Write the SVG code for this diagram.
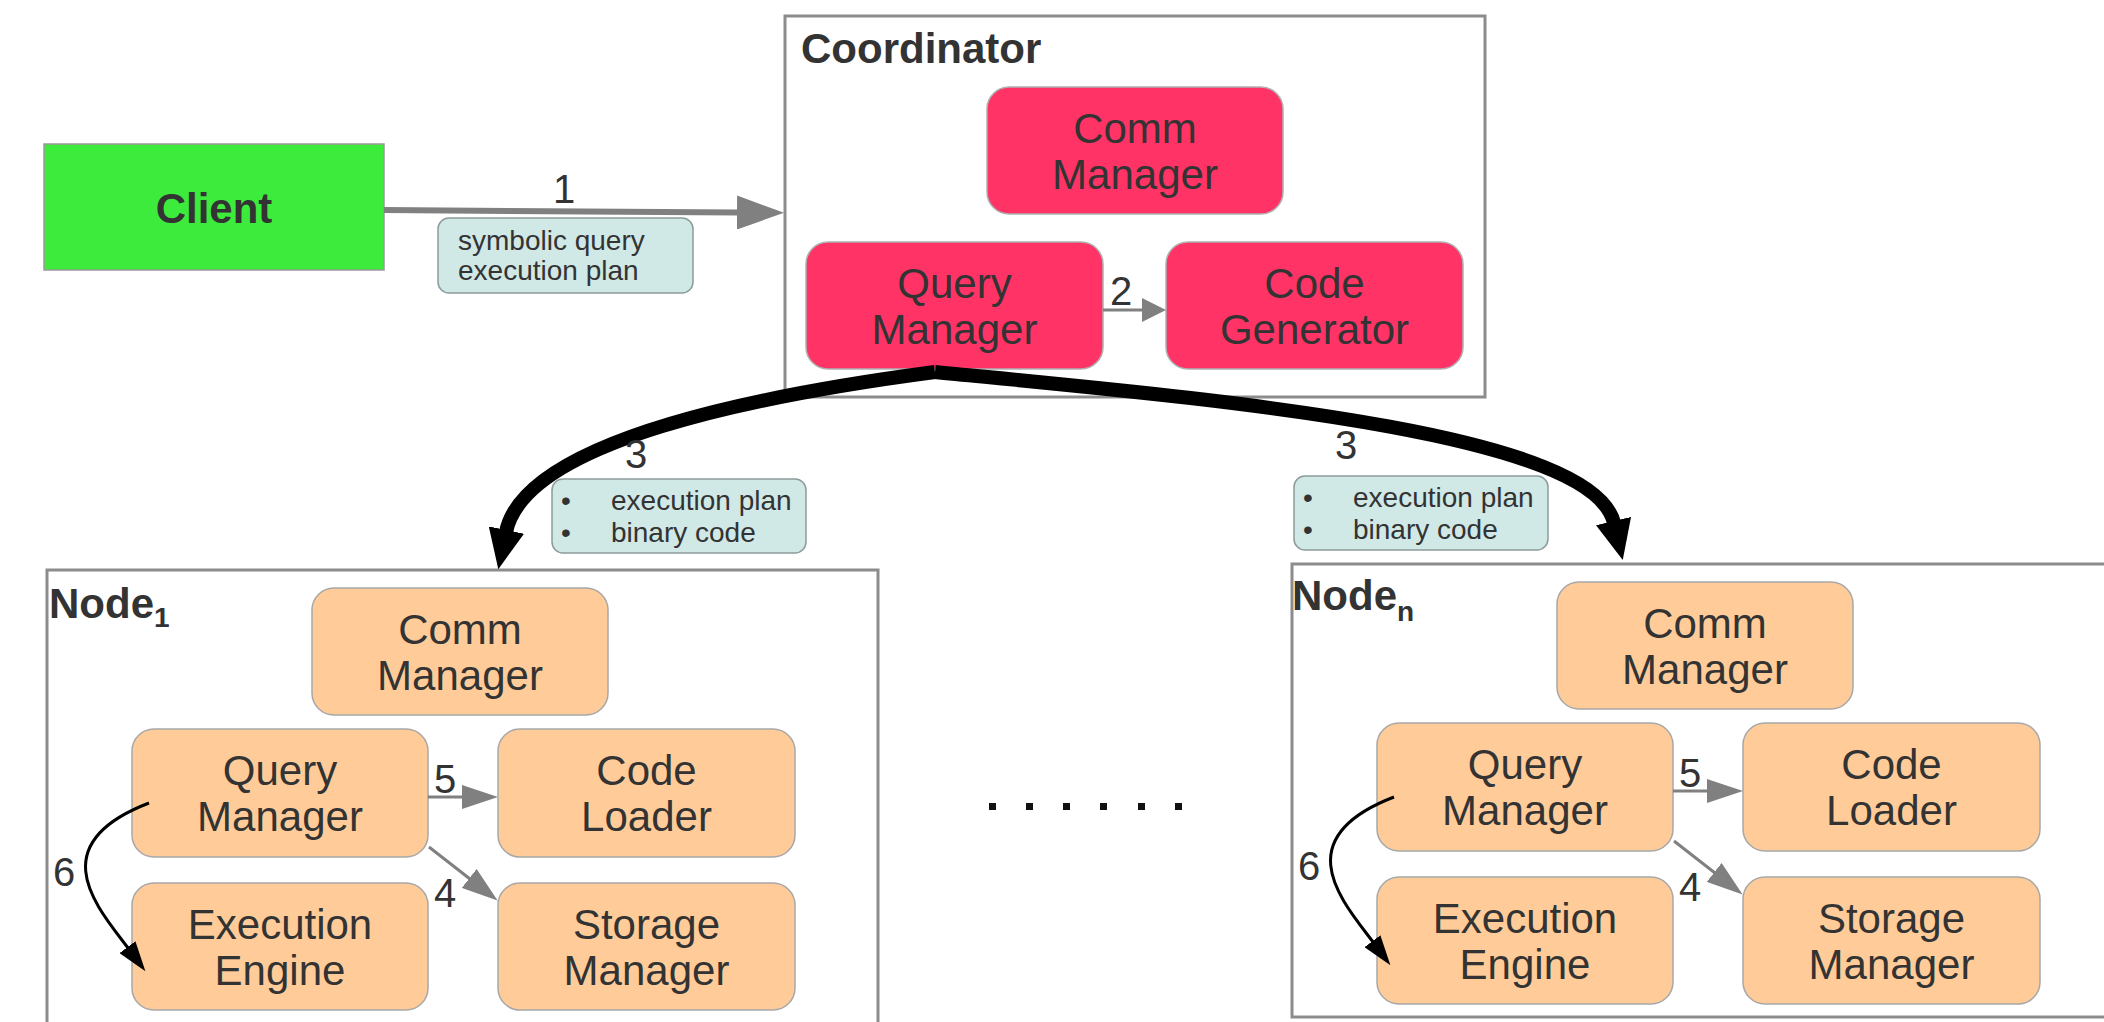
<svg xmlns="http://www.w3.org/2000/svg" width="2104" height="1022" viewBox="0 0 2104 1022">
  <style>
    text { font-family: "Liberation Sans", Arial, sans-serif; fill: #333333; }
    .title { font-size: 42px; font-weight: bold; }
    .comp { font-size: 42px; text-anchor: middle; }
    .num { font-size: 40px; text-anchor: middle; }
    .note { font-size: 28px; }
    .container { fill: #ffffff; stroke: #8c8c8c; stroke-width: 3; }
    .coord { fill: #ff3366; stroke: #b0b0b0; stroke-width: 1.5; }
    .worker { fill: #ffcc99; stroke: #a8a8a8; stroke-width: 1.5; }
    .label-box { fill: #d0e8e6; stroke: #8c9c9a; stroke-width: 1.5; }
    .gray { fill: none; stroke: #808080; }
    .black { fill: none; stroke: #000000; }
  </style>
  <defs>
    <marker id="headGrayBig" markerUnits="userSpaceOnUse" viewBox="0 0 47 34" markerWidth="47" markerHeight="34" refX="1" refY="17" orient="auto">
      <path d="M0,0 L47,17 L0,34 Z" fill="#808080"/>
    </marker>
    <marker id="headGray" markerUnits="userSpaceOnUse" viewBox="0 0 36 24" markerWidth="36" markerHeight="24" refX="1" refY="12" orient="auto">
      <path d="M0,0 L36,12 L0,24 Z" fill="#808080"/>
    </marker>
    <marker id="headGrayShort" markerUnits="userSpaceOnUse" viewBox="0 0 24 24" markerWidth="24" markerHeight="24" refX="1" refY="12" orient="auto">
      <path d="M0,0 L24,12 L0,24 Z" fill="#808080"/>
    </marker>
    <marker id="headBlack" markerUnits="userSpaceOnUse" viewBox="0 0 30 20" markerWidth="30" markerHeight="20" refX="1" refY="10" orient="auto">
      <path d="M0,0 L30,10 L0,20 Z" fill="#000000"/>
    </marker>
    <marker id="headBlackBig" markerUnits="userSpaceOnUse" viewBox="0 0 40 36" markerWidth="40" markerHeight="36" refX="2" refY="18" orient="auto">
      <path d="M0,0 L40,18 L0,36 Z" fill="#000000"/>
    </marker>
  </defs>

  <rect width="2104" height="1022" fill="#ffffff"/>

  <!-- Client -->
  <g id="client">
    <rect x="44" y="144" width="340" height="126" fill="#3deb3d" stroke="#9a9a9a" stroke-width="1.5"/>
    <text class="title" x="214" y="223" text-anchor="middle">Client</text>
  </g>

  <!-- Coordinator -->
  <g id="coordinator">
    <rect class="container" x="785" y="16" width="700" height="381"/>
    <text class="title" x="801" y="63">Coordinator</text>
    <g id="coord-comm-manager">
      <rect class="coord" x="987" y="87" width="296" height="127" rx="22"/>
      <text class="comp" x="1135" y="143">Comm<tspan x="1135" dy="46">Manager</tspan></text>
    </g>
    <g id="coord-query-manager">
      <rect class="coord" x="806" y="242" width="297" height="127" rx="22"/>
      <text class="comp" x="954.5" y="298">Query<tspan x="954.5" dy="46">Manager</tspan></text>
    </g>
    <g id="coord-code-generator">
      <rect class="coord" x="1166" y="242" width="297" height="127" rx="22"/>
      <text class="comp" x="1314.5" y="298">Code<tspan x="1314.5" dy="46">Generator</tspan></text>
    </g>
  </g>

  <!-- Worker node 1 -->
  <g id="node-1">
    <rect class="container" x="47" y="570" width="831" height="455"/>
    <text class="title" x="49" y="618">Node<tspan font-size="28" dy="9">1</tspan></text>
    <g id="node-1-comm-manager">
      <rect class="worker" x="312" y="588" width="296" height="127" rx="22"/>
      <text class="comp" x="460" y="644">Comm<tspan x="460" dy="46">Manager</tspan></text>
    </g>
    <g id="node-1-query-manager">
      <rect class="worker" x="132" y="729" width="296" height="128" rx="22"/>
      <text class="comp" x="280" y="785">Query<tspan x="280" dy="46">Manager</tspan></text>
    </g>
    <g id="node-1-code-loader">
      <rect class="worker" x="498" y="729" width="297" height="128" rx="22"/>
      <text class="comp" x="646.5" y="785">Code<tspan x="646.5" dy="46">Loader</tspan></text>
    </g>
    <g id="node-1-execution-engine">
      <rect class="worker" x="132" y="883" width="296" height="127" rx="22"/>
      <text class="comp" x="280" y="939">Execution<tspan x="280" dy="46">Engine</tspan></text>
    </g>
    <g id="node-1-storage-manager">
      <rect class="worker" x="498" y="883" width="297" height="127" rx="22"/>
      <text class="comp" x="646.5" y="939">Storage<tspan x="646.5" dy="46">Manager</tspan></text>
    </g>
  </g>

  <!-- Worker node n -->
  <g id="node-n" transform="translate(1245,-6)">
    <rect class="container" x="47" y="570" width="900" height="453"/>
    <text class="title" x="47" y="616">Node<tspan font-size="28" dy="11">n</tspan></text>
    <g id="node-n-comm-manager">
      <rect class="worker" x="312" y="588" width="296" height="127" rx="22"/>
      <text class="comp" x="460" y="644">Comm<tspan x="460" dy="46">Manager</tspan></text>
    </g>
    <g id="node-n-query-manager">
      <rect class="worker" x="132" y="729" width="296" height="128" rx="22"/>
      <text class="comp" x="280" y="785">Query<tspan x="280" dy="46">Manager</tspan></text>
    </g>
    <g id="node-n-code-loader">
      <rect class="worker" x="498" y="729" width="297" height="128" rx="22"/>
      <text class="comp" x="646.5" y="785">Code<tspan x="646.5" dy="46">Loader</tspan></text>
    </g>
    <g id="node-n-execution-engine">
      <rect class="worker" x="132" y="883" width="296" height="127" rx="22"/>
      <text class="comp" x="280" y="939">Execution<tspan x="280" dy="46">Engine</tspan></text>
    </g>
    <g id="node-n-storage-manager">
      <rect class="worker" x="498" y="883" width="297" height="127" rx="22"/>
      <text class="comp" x="646.5" y="939">Storage<tspan x="646.5" dy="46">Manager</tspan></text>
    </g>
  </g>

  <!-- Ellipsis between worker nodes -->
  <g id="more-nodes" fill="#111111">
    <rect x="989" y="803" width="7" height="7"/>
    <rect x="1026" y="803" width="7" height="7"/>
    <rect x="1063" y="803" width="7" height="7"/>
    <rect x="1100" y="803" width="7" height="7"/>
    <rect x="1138" y="803" width="7" height="7"/>
    <rect x="1175" y="803" width="7" height="7"/>
  </g>

  <!-- Connectors -->
  <g id="connectors">
    <!-- 1: client to coordinator -->
    <path class="gray" d="M384,210 L738,212.5" stroke-width="6" marker-end="url(#headGrayBig)"/>
    <text class="num" x="564" y="203">1</text>
    <rect class="label-box" x="438" y="218" width="255" height="75" rx="11"/>
    <text class="note" x="458" y="250">symbolic query<tspan x="458" dy="30">execution plan</tspan></text>

    <!-- 2: query manager to code generator -->
    <path class="gray" d="M1103,310 L1143,310" stroke-width="3" marker-end="url(#headGrayShort)"/>
    <text class="num" x="1121" y="305">2</text>

    <!-- 3: coordinator to worker nodes -->
    <path class="black" d="M935,372 C760,395 525,440 506,532" stroke-width="14" marker-end="url(#headBlackBig)"/>
    <path class="black" d="M935,372 C1200,398 1592,430 1614,523" stroke-width="14" marker-end="url(#headBlackBig)"/>
    <text class="num" x="636" y="468">3</text>
    <text class="num" x="1346" y="459">3</text>
    <rect class="label-box" x="552" y="479" width="254" height="74" rx="11"/>
    <text class="note" x="561" y="510">•<tspan x="611">execution plan</tspan></text>
    <text class="note" x="561" y="542">•<tspan x="611">binary code</tspan></text>
    <rect class="label-box" x="1294" y="476" width="254" height="74" rx="11"/>
    <text class="note" x="1303" y="507">•<tspan x="1353">execution plan</tspan></text>
    <text class="note" x="1303" y="539">•<tspan x="1353">binary code</tspan></text>

    <!-- 4, 5, 6 inside node 1 -->
    <path class="gray" d="M428,797 L463,797" stroke-width="3" marker-end="url(#headGray)"/>
    <text class="num" x="445" y="793">5</text>
    <path class="gray" d="M429,847 L470,879" stroke-width="3" marker-end="url(#headGray)"/>
    <text class="num" x="445" y="907">4</text>
    <path class="black" d="M149,803 C40,845 98,908 128,948" stroke-width="3" marker-end="url(#headBlack)"/>
    <text class="num" x="64" y="886">6</text>

    <!-- 4, 5, 6 inside node n -->
    <g transform="translate(1245,-6)">
      <path class="gray" d="M428,797 L463,797" stroke-width="3" marker-end="url(#headGray)"/>
      <text class="num" x="445" y="793">5</text>
      <path class="gray" d="M429,847 L470,879" stroke-width="3" marker-end="url(#headGray)"/>
      <text class="num" x="445" y="907">4</text>
      <path class="black" d="M149,803 C40,845 98,908 128,948" stroke-width="3" marker-end="url(#headBlack)"/>
      <text class="num" x="64" y="886">6</text>
    </g>
  </g>
</svg>
